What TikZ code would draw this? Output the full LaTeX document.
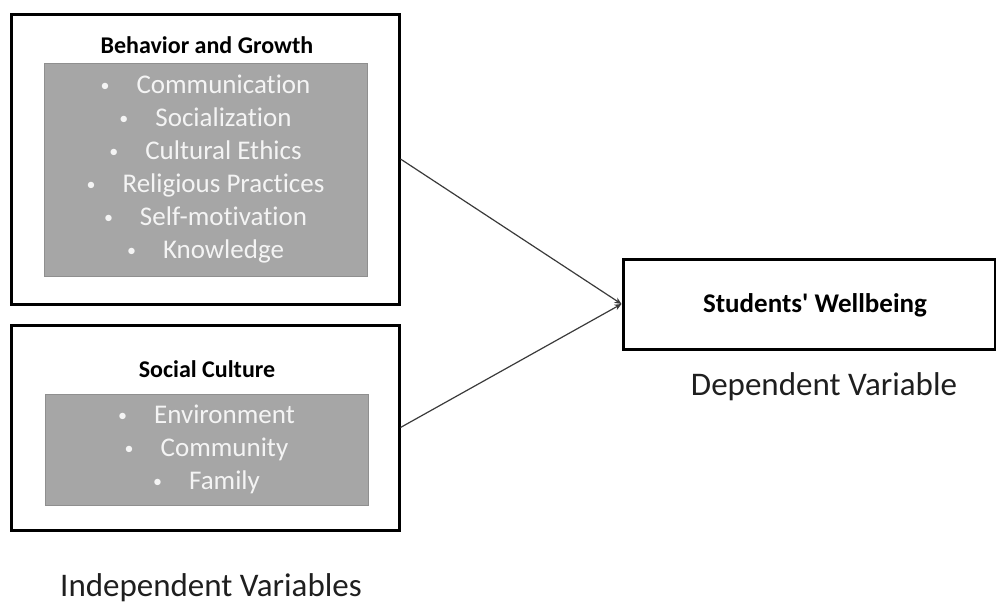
\documentclass[tikz,border=0pt]{standalone}
\usepackage{fontspec}
\setmainfont{Carlito}[Ligatures={NoCommon}]
\newfontfamily\plainquotes{Carlito}[Ligatures=ResetAll]
\usetikzlibrary{arrows.meta}
\definecolor{panelgray}{HTML}{A6A6A6}
\definecolor{paneledge}{HTML}{8F8F8F}
\definecolor{itemtext}{HTML}{F4F4F4}
\definecolor{linkgray}{HTML}{3A3A3A}
\newcommand{\bulletitem}[1]{\raisebox{2pt}{\fontsize{18}{18}\selectfont\textbullet}\hspace{27pt}#1}
\tikzset{
  outerbox/.style={draw=black, line width=3pt, fill=white, inner sep=0pt},
  itempanel/.style={draw=paneledge, line width=0.8pt, fill=panelgray, inner sep=0pt,
    text=itemtext, align=center, font=\fontsize{27}{33}\selectfont},
  boxtitle/.style={font=\fontsize{24}{28}\selectfont\bfseries, inner sep=0pt},
  caption/.style={font=\fontsize{33}{38}\selectfont, text=black!88, inner sep=0pt},
  link/.style={draw=linkgray, line width=1.2pt, -{Stealth[length=7pt,width=6pt]}}
}
\begin{document}
\begin{tikzpicture}[x=1pt, y=-1pt]
  \useasboundingbox (0,0) rectangle (996,605);

  % Behavior and Growth
  \node[outerbox, minimum width=388pt, minimum height=290pt] (bg) at (205,159) {};
  \node[boxtitle] (bgtitle) at (207,45) {Behavior and Growth};
  \node[itempanel, minimum width=323pt, minimum height=213pt] (bglist) at (205.5,169.5)
    {\bulletitem{Communication}\\ \bulletitem{Socialization}\\ \bulletitem{Cultural Ethics}\\
     \bulletitem{Religious Practices}\\ \bulletitem{Self-motivation}\\ \bulletitem{Knowledge}};

  % Social Culture
  \node[outerbox, minimum width=388pt, minimum height=205pt] (sc) at (205,427.5) {};
  \node[boxtitle] (sctitle) at (207,369) {Social Culture};
  \node[itempanel, minimum width=323pt, minimum height=111pt] (sclist) at (206.5,449.5)
    {\bulletitem{Environment}\\ \bulletitem{Community}\\ \bulletitem{Family}};

  % Students' Wellbeing
  \node[outerbox, minimum width=372pt, minimum height=90pt] (sw) at (809,304) {};
  \node[boxtitle, font=\plainquotes\fontsize{27}{30}\selectfont\bfseries] (swtitle) at (815,305)
    {Students' Wellbeing};

  % captions
  \node[caption] (dep) at (824,387) {Dependent Variable};
  \node[caption] (indep) at (211,588) {Independent Variables};

  % links
  \draw[link] (bg.east) -- (sw.west);
  \draw[link] (sc.east) -- (sw.west);
\end{tikzpicture}
\end{document}
